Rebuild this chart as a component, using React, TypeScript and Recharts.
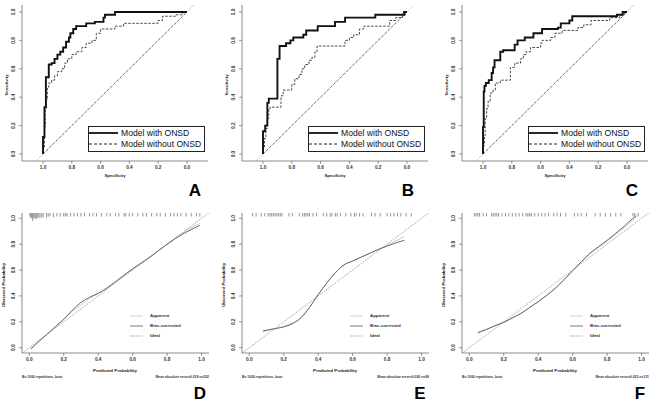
import React from 'react';
import { ComposedChart, Line, Scatter, XAxis, YAxis, Legend } from 'recharts';

const FONT = "'Liberation Sans', Arial, Helvetica, sans-serif";
const BOX = '#6e6e6e';
const TICKS = [0, 0.2, 0.4, 0.6, 0.8, 1];

const ROC_X = [-0.146, 1.146];
const ROC_Y = [-0.049, 1.049];
const CAL_X = [-0.042, 1.043];
const CAL_Y = [-0.041, 1.041];

// ROC curves, step corners as [specificity, sensitivity]
const rocAWith: [number, number][] = [
  [1, 0], [1, 0.12], [0.99, 0.12], [0.99, 0.33], [0.98, 0.33], [0.98, 0.54], [0.96, 0.54], [0.96, 0.63],
  [0.94, 0.63], [0.94, 0.64], [0.92, 0.64], [0.92, 0.67], [0.9, 0.67], [0.9, 0.7], [0.88, 0.7], [0.88, 0.72],
  [0.86, 0.72], [0.86, 0.75], [0.84, 0.75], [0.84, 0.79], [0.82, 0.79], [0.82, 0.82], [0.81, 0.82], [0.81, 0.85],
  [0.79, 0.85], [0.79, 0.88], [0.77, 0.88], [0.77, 0.9], [0.7, 0.9], [0.7, 0.92], [0.64, 0.92], [0.64, 0.93],
  [0.58, 0.93], [0.58, 0.96], [0.57, 0.96], [0.57, 0.98], [0.5, 0.98], [0.5, 1], [0, 1],
];
const rocAWithout: [number, number][] = [
  [1, 0], [1, 0.05], [0.99, 0.05], [0.99, 0.19], [0.985, 0.19], [0.985, 0.31], [0.98, 0.31], [0.98, 0.38],
  [0.97, 0.38], [0.97, 0.47], [0.96, 0.47], [0.96, 0.5], [0.94, 0.5], [0.94, 0.52], [0.92, 0.52], [0.92, 0.55],
  [0.9, 0.55], [0.9, 0.58], [0.87, 0.58], [0.87, 0.6], [0.85, 0.6], [0.85, 0.64], [0.83, 0.64], [0.83, 0.67],
  [0.8, 0.67], [0.8, 0.7], [0.77, 0.7], [0.77, 0.72], [0.73, 0.72], [0.73, 0.75], [0.7, 0.75], [0.7, 0.78],
  [0.66, 0.78], [0.66, 0.8], [0.63, 0.8], [0.63, 0.85], [0.6, 0.85], [0.6, 0.88], [0.5, 0.88], [0.5, 0.9],
  [0.44, 0.9], [0.44, 0.92], [0.2, 0.92], [0.2, 0.94], [0.17, 0.94], [0.17, 0.97], [0.08, 0.97], [0.08, 0.98],
  [0.03, 0.98], [0.03, 1], [0, 1],
];
const rocBWith: [number, number][] = [
  [1, 0], [1, 0.16], [0.985, 0.16], [0.985, 0.2], [0.97, 0.2], [0.97, 0.36], [0.96, 0.36], [0.96, 0.39],
  [0.9, 0.39], [0.9, 0.67], [0.885, 0.67], [0.885, 0.76], [0.84, 0.76], [0.84, 0.78], [0.81, 0.78], [0.81, 0.8],
  [0.79, 0.8], [0.79, 0.82], [0.72, 0.82], [0.72, 0.84], [0.7, 0.84], [0.7, 0.87], [0.62, 0.87], [0.62, 0.9],
  [0.5, 0.9], [0.5, 0.93], [0.43, 0.93], [0.43, 0.96], [0.22, 0.96], [0.22, 0.98], [0.02, 0.98], [0.02, 1], [0, 1],
];
const rocBWithout: [number, number][] = [
  [1, 0], [1, 0.05], [0.99, 0.05], [0.99, 0.11], [0.98, 0.11], [0.98, 0.18], [0.97, 0.18], [0.97, 0.25],
  [0.96, 0.25], [0.96, 0.32], [0.95, 0.32], [0.95, 0.33], [0.875, 0.33], [0.875, 0.41], [0.86, 0.41], [0.86, 0.45],
  [0.8, 0.45], [0.8, 0.49], [0.78, 0.49], [0.78, 0.53], [0.75, 0.53], [0.75, 0.56], [0.73, 0.56], [0.73, 0.6],
  [0.71, 0.6], [0.71, 0.63], [0.68, 0.63], [0.68, 0.66], [0.66, 0.66], [0.66, 0.68], [0.64, 0.68], [0.64, 0.72],
  [0.625, 0.72], [0.625, 0.76], [0.43, 0.76], [0.43, 0.8], [0.4, 0.8], [0.4, 0.82], [0.37, 0.82], [0.37, 0.84],
  [0.33, 0.84], [0.33, 0.88], [0.3, 0.88], [0.3, 0.9], [0.12, 0.9], [0.12, 0.94], [0.08, 0.94], [0.08, 0.96],
  [0.03, 0.96], [0.03, 0.98], [0.01, 0.98], [0.01, 1], [0, 1],
];
const rocCWith: [number, number][] = [
  [1, 0], [1, 0.19], [0.995, 0.19], [0.995, 0.44], [0.99, 0.44], [0.99, 0.48], [0.98, 0.48], [0.98, 0.5],
  [0.96, 0.5], [0.96, 0.52], [0.94, 0.52], [0.94, 0.57], [0.93, 0.57], [0.93, 0.61], [0.92, 0.61], [0.92, 0.66],
  [0.88, 0.66], [0.88, 0.72], [0.86, 0.72], [0.86, 0.73], [0.78, 0.73], [0.78, 0.77], [0.76, 0.77], [0.76, 0.8],
  [0.71, 0.8], [0.71, 0.82], [0.65, 0.82], [0.65, 0.85], [0.59, 0.85], [0.59, 0.88], [0.48, 0.88], [0.48, 0.89],
  [0.46, 0.89], [0.46, 0.92], [0.4, 0.92], [0.4, 0.94], [0.38, 0.94], [0.38, 0.97], [0.07, 0.97], [0.07, 0.98],
  [0.03, 0.98], [0.03, 1], [0, 1],
];
const rocCWithout: [number, number][] = [
  [1, 0], [1, 0.06], [0.99, 0.06], [0.99, 0.13], [0.985, 0.13], [0.985, 0.25], [0.975, 0.25], [0.975, 0.32],
  [0.965, 0.32], [0.965, 0.37], [0.95, 0.37], [0.95, 0.43], [0.93, 0.43], [0.93, 0.45], [0.915, 0.45], [0.915, 0.5],
  [0.88, 0.5], [0.88, 0.52], [0.81, 0.52], [0.81, 0.61], [0.78, 0.61], [0.78, 0.64], [0.74, 0.64], [0.74, 0.67],
  [0.72, 0.67], [0.72, 0.7], [0.7, 0.7], [0.7, 0.72], [0.67, 0.72], [0.67, 0.75], [0.6, 0.75], [0.6, 0.78],
  [0.59, 0.78], [0.59, 0.8], [0.53, 0.8], [0.53, 0.82], [0.5, 0.82], [0.5, 0.85], [0.45, 0.85], [0.45, 0.87],
  [0.34, 0.87], [0.34, 0.89], [0.3, 0.89], [0.3, 0.91], [0.25, 0.91], [0.25, 0.94], [0.12, 0.94], [0.12, 0.96],
  [0.05, 0.96], [0.05, 0.98], [0.02, 0.98], [0.02, 1], [0, 1],
];
const rocChance: [number, number][] = [[1, 0], [0, 1]];
const rocIdentity: [number, number][] = [[1.049, -0.049], [-0.049, 1.049]];

// calibration curves
const calDX = [0.01, 0.05, 0.1, 0.15, 0.2, 0.25, 0.3, 0.35, 0.4, 0.45, 0.5, 0.55, 0.6, 0.65, 0.7, 0.75, 0.8, 0.85, 0.9, 0.95, 0.99];
const calDApparent = [0.0, 0.05, 0.1, 0.16, 0.22, 0.28, 0.33, 0.38, 0.42, 0.46, 0.51, 0.56, 0.605, 0.65, 0.7, 0.75, 0.8, 0.85, 0.895, 0.935, 0.96];
const calDBias = [-0.01, 0.04, 0.1, 0.16, 0.22, 0.29, 0.35, 0.39, 0.42, 0.46, 0.51, 0.56, 0.61, 0.655, 0.7, 0.75, 0.8, 0.845, 0.885, 0.92, 0.945];

const calEX = [0.08, 0.12, 0.16, 0.2, 0.25, 0.3, 0.35, 0.4, 0.45, 0.5, 0.55, 0.6, 0.65, 0.7, 0.75, 0.8, 0.85, 0.9];
const calEApparent = [0.12, 0.14, 0.15, 0.165, 0.19, 0.235, 0.315, 0.41, 0.5, 0.58, 0.64, 0.67, 0.7, 0.73, 0.76, 0.79, 0.825, 0.86];
const calEBias = [0.13, 0.14, 0.15, 0.16, 0.185, 0.23, 0.31, 0.41, 0.5, 0.58, 0.64, 0.67, 0.7, 0.73, 0.76, 0.785, 0.81, 0.83];

const calFX = [0.05, 0.1, 0.15, 0.2, 0.25, 0.3, 0.35, 0.4, 0.45, 0.5, 0.55, 0.6, 0.65, 0.7, 0.75, 0.8, 0.85, 0.9, 0.95, 0.97];
const calFApparent = [0.12, 0.145, 0.17, 0.2, 0.23, 0.265, 0.31, 0.355, 0.405, 0.46, 0.525, 0.595, 0.66, 0.725, 0.775, 0.825, 0.875, 0.93, 0.985, 1.01];
const calFBias = [0.115, 0.14, 0.17, 0.195, 0.23, 0.265, 0.31, 0.355, 0.405, 0.46, 0.525, 0.595, 0.665, 0.73, 0.78, 0.83, 0.885, 0.94, 1.0, 1.02];

const calIdeal = [[-0.042, -0.042], [1.043, 1.043]];

// rug of predicted probabilities, [value, spike size]
const rugD: [number, number][] = [
  [0.004, 1], [0.01, 3], [0.015, 2], [0.02, 6], [0.027, 3], [0.033, 3], [0.039, 4], [0.046, 3], [0.052, 2],
  [0.062, 3], [0.072, 2], [0.081, 2], [0.1, 2], [0.11, 1], [0.12, 1], [0.14, 2], [0.16, 1], [0.18, 1], [0.2, 1],
  [0.21, 1], [0.22, 1], [0.24, 1], [0.26, 1], [0.28, 1], [0.3, 1], [0.32, 1], [0.35, 1], [0.37, 1], [0.39, 1],
  [0.42, 1], [0.45, 1], [0.47, 1], [0.5, 1], [0.52, 1], [0.55, 1], [0.56, 1], [0.58, 1], [0.6, 1], [0.63, 1],
  [0.66, 1], [0.68, 1], [0.71, 1], [0.74, 1], [0.76, 1], [0.79, 1], [0.82, 1], [0.84, 1], [0.86, 1], [0.88, 1],
  [0.91, 1], [0.94, 1], [0.97, 1], [0.99, 1],
];
const rugE = [0.02, 0.04, 0.07, 0.09, 0.11, 0.12, 0.13, 0.14, 0.15, 0.16, 0.17, 0.18, 0.19, 0.23, 0.25, 0.29, 0.31,
  0.32, 0.33, 0.34, 0.35, 0.37, 0.39, 0.43, 0.45, 0.47, 0.48, 0.5, 0.51, 0.53, 0.56, 0.59, 0.61, 0.62, 0.64, 0.66,
  0.71, 0.73, 0.76, 0.8, 0.82, 0.84, 0.86, 0.88, 0.91, 0.94];
const rugF = [0.03, 0.04, 0.05, 0.06, 0.08, 0.1, 0.13, 0.14, 0.15, 0.16, 0.17, 0.19, 0.21, 0.23, 0.25, 0.27, 0.29,
  0.31, 0.33, 0.34, 0.35, 0.36, 0.38, 0.4, 0.42, 0.44, 0.46, 0.49, 0.51, 0.53, 0.56, 0.61, 0.63, 0.65, 0.68, 0.73,
  0.76, 0.79, 0.82, 0.85, 0.88, 0.95, 0.96, 0.98];

const toXY = (pts: number[][]) => pts.map(([x, y]) => ({ x, y }));
const zipXY = (xs: number[], ys: number[]) => xs.map((x, i) => ({ x, y: ys[i] }));

function BottomTick(props: any) {
  const { x, y, payload } = props;
  return (
    <text x={x} y={y} dy="0.71em" textAnchor="middle" fontSize={4.7} fontWeight={700} fill="#333" fontFamily={FONT}>
      {Number(payload.value).toFixed(1)}
    </text>
  );
}

function LeftTick(props: any) {
  const { x, y, payload } = props;
  const tx = x - 2;
  return (
    <text x={tx} y={y} transform={`rotate(-90 ${tx} ${y})`} textAnchor="middle" fontSize={4.7} fontWeight={700} fill="#333" fontFamily={FONT}>
      {Number(payload.value).toFixed(1)}
    </text>
  );
}

function RugMark(props: any) {
  const { cx, cy, payload } = props;
  return <line x1={cx} x2={cx} y1={cy} y2={cy + 3.5 + (payload.n - 1) * 0.9} stroke="#3a3a3a" strokeWidth={0.55} />;
}

const label = (text: string, x: number, y: number, size: number, rotate = false, extra: any = {}) => (
  <div
    style={{
      position: 'absolute', left: x, top: y, fontSize: size, fontFamily: FONT, color: '#222', whiteSpace: 'nowrap',
      lineHeight: 1, transform: `translate(-50%, -50%)${rotate ? ' rotate(-90deg)' : ''}`, ...extra,
    }}
  >
    {text}
  </div>
);

function RocKey() {
  return (
    <div style={{ width: 117, height: 26, border: '1px solid #222', boxSizing: 'border-box', background: '#fff', position: 'relative', fontFamily: FONT, fontSize: 8.6, color: '#111' }}>
      <svg width={115} height={24} style={{ position: 'absolute', left: 0, top: 0 }}>
        <line x1={0} x2={29} y1={6} y2={6} stroke="#111" strokeWidth={1.8} />
        <line x1={0} x2={29} y1={17} y2={17} stroke="#222" strokeWidth={1} strokeDasharray="3 2" />
      </svg>
      <div style={{ position: 'absolute', left: 32, top: 1, lineHeight: '11px', whiteSpace: 'nowrap' }}>Model with ONSD</div>
      <div style={{ position: 'absolute', left: 32, top: 12, lineHeight: '11px', whiteSpace: 'nowrap' }}>Model without ONSD</div>
    </div>
  );
}

function CalKey() {
  const rows = [
    { name: 'Apparent', stroke: '#c4c4c4', dash: undefined },
    { name: 'Bias-corrected', stroke: '#5a5a5a', dash: undefined },
    { name: 'Ideal', stroke: '#8a8a8a', dash: '1.5 1.2' },
  ];
  return (
    <div style={{ width: 64, height: 30, position: 'relative', fontFamily: FONT, fontSize: 4.4, fontWeight: 700, color: '#333' }}>
      <svg width={16} height={30} style={{ position: 'absolute', left: 0, top: 0 }}>
        {rows.map((r, i) => (
          <line key={r.name} x1={2} x2={15} y1={5 + i * 10} y2={5 + i * 10} stroke={r.stroke} strokeWidth={0.8} strokeDasharray={r.dash} />
        ))}
      </svg>
      {rows.map((r, i) => (
        <div key={r.name} style={{ position: 'absolute', left: 22, top: 5 + i * 10 - 3, lineHeight: '6px', whiteSpace: 'nowrap' }}>{r.name}</div>
      ))}
    </div>
  );
}

function RocPanel({ left, withPts, withoutPts, letter }: { left: number; withPts: number[][]; withoutPts: number[][]; letter: string }) {
  return (
    <div style={{ position: 'absolute', left, top: 0, width: 220, height: 205 }}>
      <ComposedChart width={220} height={205} margin={{ top: 5, right: 12, bottom: 24, left: 12 }}>
        <XAxis xAxisId="b" type="number" dataKey="x" domain={ROC_X} reversed allowDataOverflow ticks={TICKS} interval={0}
          tick={<BottomTick />} tickSize={3} tickLine={{ stroke: '#555', strokeWidth: 0.6 }} axisLine={{ stroke: BOX, strokeWidth: 0.8 }} height={20} />
        <XAxis xAxisId="t" orientation="top" type="number" dataKey="x" domain={ROC_X} reversed allowDataOverflow height={0}
          tick={false} tickLine={false} axisLine={{ stroke: BOX, strokeWidth: 0.8 }} />
        <YAxis yAxisId="l" type="number" dataKey="y" domain={ROC_Y} allowDataOverflow ticks={TICKS} interval={0}
          tick={<LeftTick />} tickSize={3} tickLine={{ stroke: '#555', strokeWidth: 0.6 }} axisLine={{ stroke: BOX, strokeWidth: 0.8 }} width={10} />
        <YAxis yAxisId="r" orientation="right" type="number" dataKey="y" domain={ROC_Y} allowDataOverflow width={0}
          tick={false} tickLine={false} axisLine={{ stroke: BOX, strokeWidth: 0.8 }} />
        <Line xAxisId="b" yAxisId="l" data={toXY(rocIdentity)} dataKey="y" type="linear" stroke="#d6d6d6" strokeWidth={1} dot={false} activeDot={false} isAnimationActive={false} />
        <Line xAxisId="b" yAxisId="l" data={toXY(rocChance)} dataKey="y" type="linear" stroke="#555" strokeWidth={0.8} strokeDasharray="2.5 2" dot={false} activeDot={false} isAnimationActive={false} />
        <Line xAxisId="b" yAxisId="l" data={toXY(withoutPts)} dataKey="y" type="linear" stroke="#333" strokeWidth={0.9} strokeDasharray="2.5 1.5" dot={false} activeDot={false} isAnimationActive={false} />
        <Line xAxisId="b" yAxisId="l" data={toXY(withPts)} dataKey="y" type="linear" stroke="#111" strokeWidth={1.9} dot={false} activeDot={false} isAnimationActive={false} />
        <Legend layout="vertical" align="center" verticalAlign="middle" content={() => <RocKey />}
          wrapperStyle={{ left: 88, top: 126, width: 117, height: 26 }} />
      </ComposedChart>
      {label('Specificity', 115, 176, 4.2, false, { fontWeight: 700 })}
      {label('Sensitivity', 7, 85, 4.2, true, { fontWeight: 700 })}
      {label(letter, 195 + (letter === 'B' ? -7 : letter === 'C' ? -3 : 0), 190, 17, false, { fontWeight: 700, color: '#000' })}
    </div>
  );
}

function CalPanel({ left, xs, apparent, bias, rug, mae, letter }: { left: number; xs: number[]; apparent: number[]; bias: number[]; rug: [number, number][]; mae: string; letter: string }) {
  const rugData = rug.map(([x, n]) => ({ x, y: CAL_Y[1], n }));
  return (
    <div style={{ position: 'absolute', left, top: 205, width: 220, height: 206 }}>
      <ComposedChart width={220} height={206} margin={{ top: 8, right: 11, bottom: 38, left: 12 }}>
        <XAxis xAxisId="b" type="number" dataKey="x" domain={CAL_X} allowDataOverflow ticks={TICKS} interval={0}
          tick={<BottomTick />} tickSize={3} tickLine={{ stroke: '#555', strokeWidth: 0.6 }} axisLine={{ stroke: BOX, strokeWidth: 0.8 }} height={20} />
        <XAxis xAxisId="t" orientation="top" type="number" dataKey="x" domain={CAL_X} allowDataOverflow height={0}
          tick={false} tickLine={false} axisLine={{ stroke: BOX, strokeWidth: 0.8 }} />
        <YAxis yAxisId="l" type="number" dataKey="y" domain={CAL_Y} allowDataOverflow ticks={TICKS} interval={0}
          tick={<LeftTick />} tickSize={3} tickLine={{ stroke: '#555', strokeWidth: 0.6 }} axisLine={{ stroke: BOX, strokeWidth: 0.8 }} width={10} />
        <YAxis yAxisId="r" orientation="right" type="number" dataKey="y" domain={CAL_Y} allowDataOverflow width={0}
          tick={false} tickLine={false} axisLine={{ stroke: BOX, strokeWidth: 0.8 }} />
        <Line xAxisId="b" yAxisId="l" data={toXY(calIdeal)} dataKey="y" type="linear" stroke="#8a8a8a" strokeWidth={0.8} strokeDasharray="1.5 1.2" dot={false} activeDot={false} isAnimationActive={false} />
        <Line xAxisId="b" yAxisId="l" data={zipXY(xs, apparent)} dataKey="y" type="monotone" stroke="#c4c4c4" strokeWidth={0.9} dot={false} activeDot={false} isAnimationActive={false} />
        <Line xAxisId="b" yAxisId="l" data={zipXY(xs, bias)} dataKey="y" type="monotone" stroke="#5a5a5a" strokeWidth={0.9} dot={false} activeDot={false} isAnimationActive={false} />
        <Scatter xAxisId="b" yAxisId="l" data={rugData} dataKey="y" shape={<RugMark />} isAnimationActive={false} />
        <Legend layout="vertical" align="center" verticalAlign="middle" content={() => <CalKey />}
          wrapperStyle={{ left: 128, top: 106, width: 64, height: 30 }} />
      </ComposedChart>
      {label('Predicted Probability', 115, 166, 4.4, false, { fontWeight: 700 })}
      {label('Observed Probability', 4, 80, 4.4, true, { fontWeight: 700 })}
      <div style={{ position: 'absolute', left: 22, top: 170, fontSize: 3.4, fontFamily: FONT, color: '#333', whiteSpace: 'nowrap', fontWeight: 700 }}>B= 1000 repetitions, boot</div>
      <div style={{ position: 'absolute', right: 11, top: 170, fontSize: 3.4, fontFamily: FONT, color: '#333', whiteSpace: 'nowrap', fontWeight: 700 }}>{mae}</div>
      {label(letter, 200, 188, 17, false, { fontWeight: 700, color: '#000' })}
    </div>
  );
}

export default function App() {
  return (
    <div style={{ position: 'absolute', left: 0, top: 0, width: 669, height: 411, background: '#fff', overflow: 'hidden' }}>
      <RocPanel left={0} withPts={rocAWith} withoutPts={rocAWithout} letter="A" />
      <RocPanel left={220} withPts={rocBWith} withoutPts={rocBWithout} letter="B" />
      <RocPanel left={440} withPts={rocCWith} withoutPts={rocCWithout} letter="C" />
      <CalPanel left={0} xs={calDX} apparent={calDApparent} bias={calDBias} rug={rugD} mae="Mean absolute error=0.018 n=202" letter="D" />
      <CalPanel left={220} xs={calEX} apparent={calEApparent} bias={calEBias} rug={rugE.map((v) => [v, 1] as [number, number])} mae="Mean absolute error=0.026 n=99" letter="E" />
      <CalPanel left={440} xs={calFX} apparent={calFApparent} bias={calFBias} rug={rugF.map((v) => [v, 1] as [number, number])} mae="Mean absolute error=0.022 n=131" letter="F" />
    </div>
  );
}
